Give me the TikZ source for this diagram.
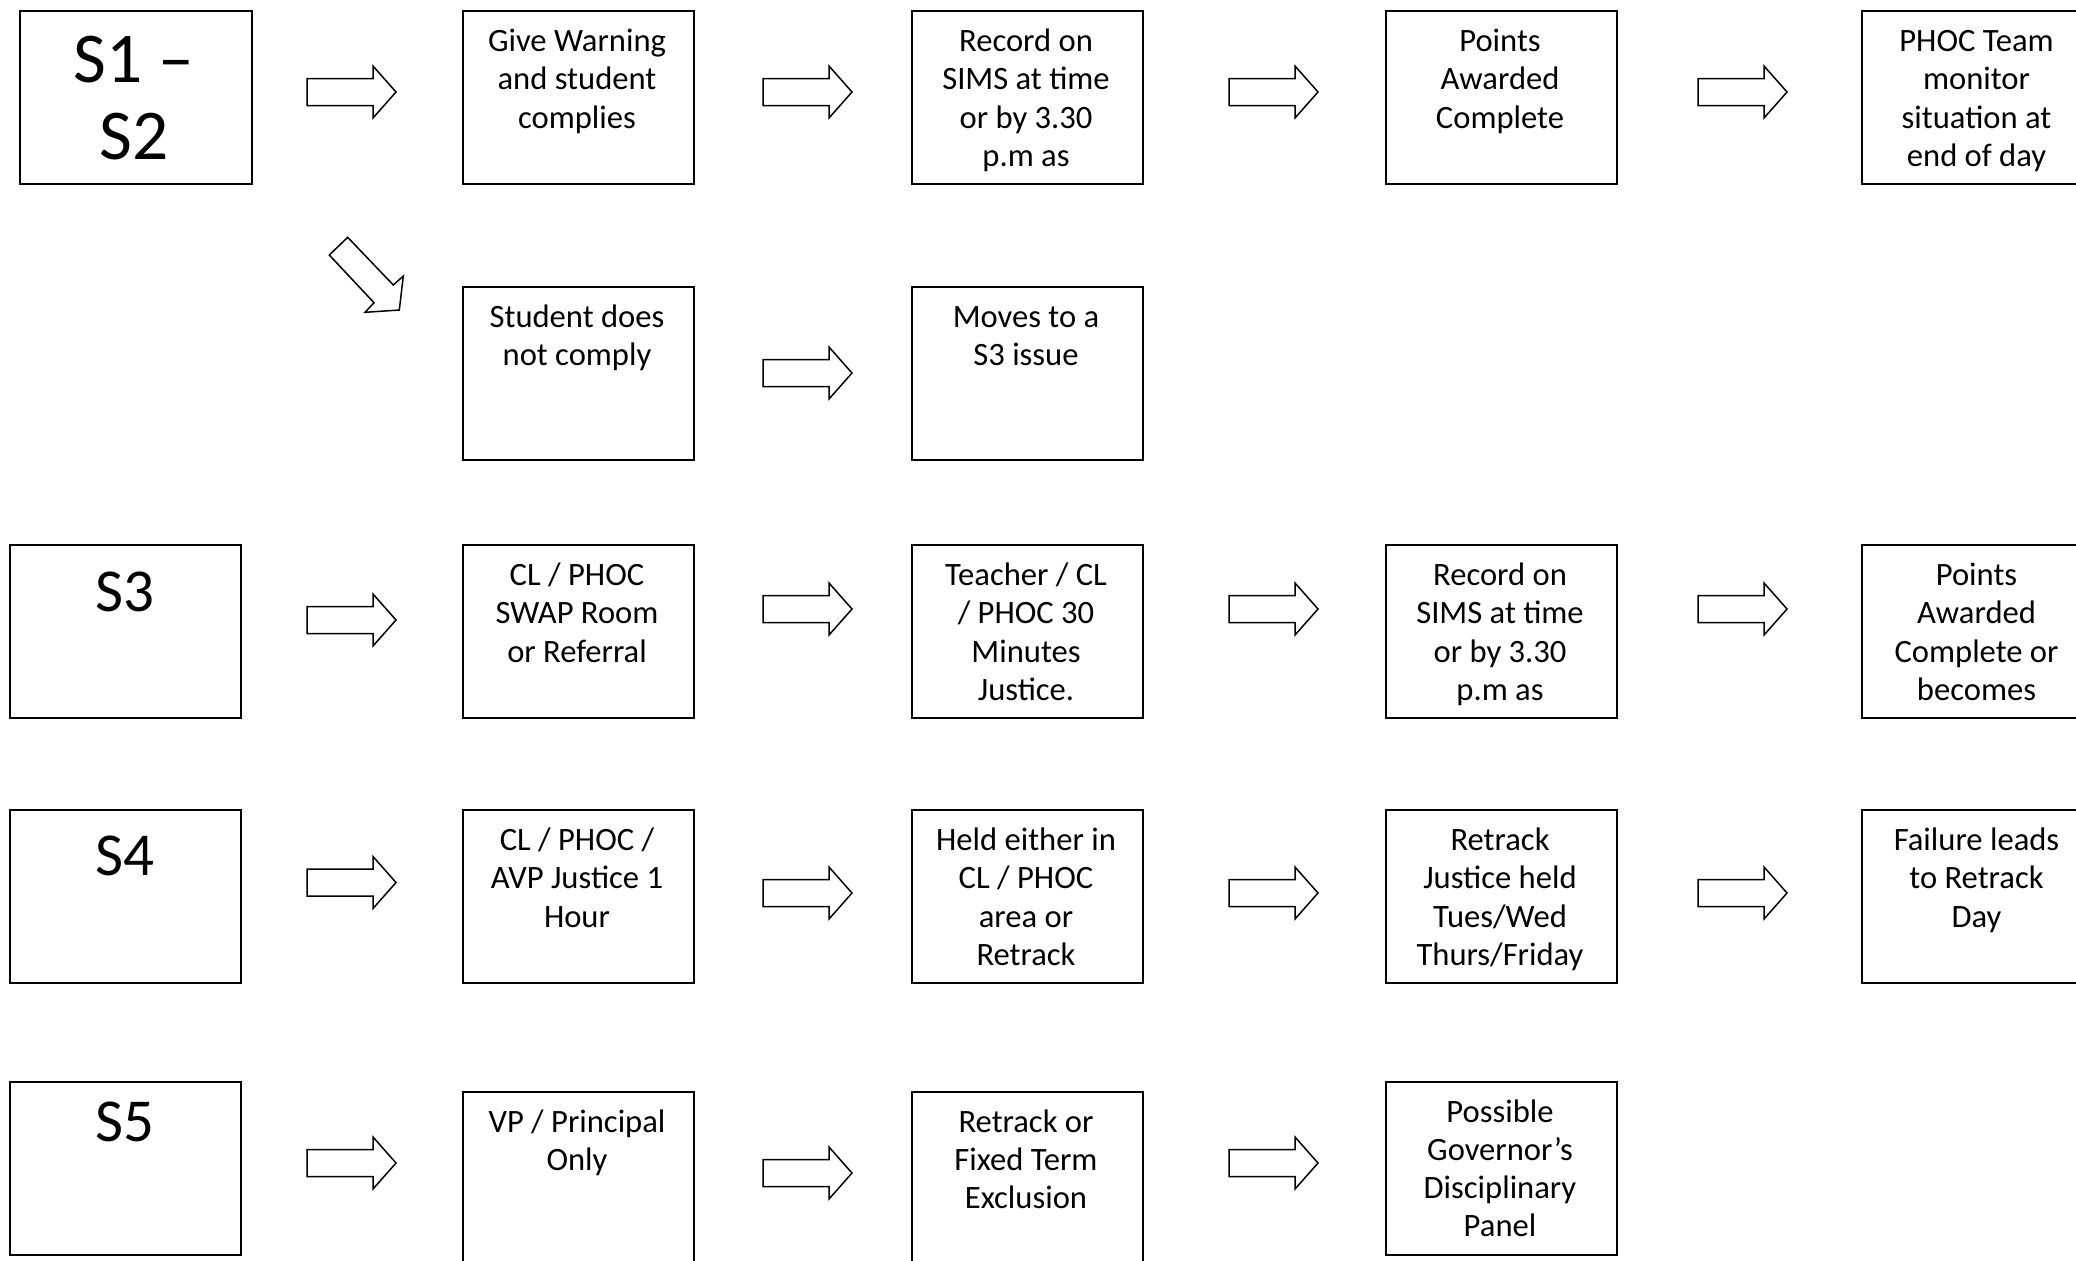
\documentclass[tikz,border=0pt]{standalone}
\usepackage{fontspec}
\setmainfont{Carlito}
\newcommand{\mybt}[1]{\parbox[t]{140pt}{\centering #1}}
\tikzset{
  sbox/.style={draw, line width=1.1pt, anchor=north west, inner sep=0pt, minimum width=115.5pt, minimum height=86.25pt},
  txt/.style={anchor=base, inner sep=0pt, font=\fontsize{16.3pt}{19.15pt}\selectfont},
  bigtxt/.style={anchor=base, inner sep=0pt, font=\fontsize{35.7pt}{38.3pt}\selectfont},
  midtxt/.style={anchor=base, inner sep=0pt, font=\fontsize{30.5pt}{36pt}\selectfont},
  arrowline/.style={draw, line width=0.75pt, line join=miter},
  rarrow/.pic={\path[arrowline] (0,-13.5) -- (66,-13.5) -- (66,-26) -- (89,0) -- (66,26) -- (66,13.5) -- (0,13.5) -- cycle;}
}
\begin{document}
\begin{tikzpicture}[x=0.5pt,y=-0.5pt]
\path[use as bounding box] (0,0) rectangle (2076,1260);
\clip (0,0) rectangle (2076,1260);
\fill[white] (0,0) rectangle (2076,1260);

% ---- Row 1
\node[sbox, minimum width=116pt] (s12) at (18.5,10) {};
\node[bigtxt] (s12a) at (134,82.7) {S1 –};
\node[bigtxt] (s12b) at (134,159.3) {S2};
\node[sbox] (b11) at (461.5,10) {};
\node[txt] (t11) at (577,51.5) {\mybt{Give Warning\\and student\\complies}};
\node[sbox] (b12) at (911,10) {};
\node[txt] (t12) at (1026,51.5) {\mybt{Record on\\SIMS at time\\or by 3.30\\p.m as}};
\node[sbox] (b13) at (1385,10) {};
\node[txt] (t13) at (1500,51.5) {\mybt{Points\\Awarded\\Complete}};
\node[sbox] (b14) at (1861,10) {};
\node[txt] (t14) at (1976.5,51.5) {\mybt{PHOC Team\\monitor\\situation at\\end of day}};
\pic at (307,92) {rarrow};
\pic at (763,92) {rarrow};
\pic at (1229,92) {rarrow};
\pic at (1698,92) {rarrow};

% ---- Row 2
\path[arrowline] (329.3,255) -- (347.7,237.3) -- (393.3,285) -- (403.3,276) -- (399.3,310) -- (365,312.3) -- (374,302.7) -- cycle;
\node[sbox] (b21) at (461.5,286) {};
\node[txt] (t21) at (577,327.5) {\mybt{Student does\\not comply}};
\node[sbox] (b22) at (911,286) {};
\node[txt] (t22) at (1026,327.5) {\mybt{Moves to a\\S3 issue}};
\pic at (763,373) {rarrow};

% ---- Row 3
\node[sbox] (s3) at (9,544) {};
\node[midtxt] (s3t) at (124.5,611) {S3};
\node[sbox] (b31) at (461.5,544) {};
\node[txt] (t31) at (577,585.5) {\mybt{CL / PHOC\\SWAP Room\\or Referral}};
\node[sbox] (b32) at (911,544) {};
\node[txt] (t32) at (1026,585.5) {\mybt{Teacher / CL\\/ PHOC 30\\Minutes\\Justice.}};
\node[sbox] (b33) at (1385,544) {};
\node[txt] (t33) at (1500,585.5) {\mybt{Record on\\SIMS at time\\or by 3.30\\p.m as}};
\node[sbox] (b34) at (1861,544) {};
\node[txt] (t34) at (1976.5,585.5) {\mybt{Points\\Awarded\\Complete or\\becomes}};
\pic at (307,620) {rarrow};
\pic at (763,609) {rarrow};
\pic at (1229,609) {rarrow};
\pic at (1698,609) {rarrow};

% ---- Row 4
\node[sbox] (s4) at (9,809) {};
\node[midtxt] (s4t) at (124.5,875) {S4};
\node[sbox] (b41) at (461.5,809) {};
\node[txt] (t41) at (577,850.5) {\mybt{CL / PHOC /\\AVP Justice 1\\Hour}};
\node[sbox] (b42) at (911,809) {};
\node[txt] (t42) at (1026,850.5) {\mybt{Held either in\\CL / PHOC\\area or\\Retrack}};
\node[sbox] (b43) at (1385,809) {};
\node[txt] (t43) at (1500,850.5) {\mybt{Retrack\\Justice held\\Tues/Wed\\Thurs/Friday}};
\node[sbox] (b44) at (1861,809) {};
\node[txt] (t44) at (1976.5,850.5) {\mybt{Failure leads\\to Retrack\\Day}};
\pic at (307,882.5) {rarrow};
\pic at (763,893) {rarrow};
\pic at (1229,893) {rarrow};
\pic at (1698,893) {rarrow};

% ---- Row 5
\node[sbox] (s5) at (9,1081) {};
\node[midtxt] (s5t) at (124.5,1141) {S5};
\node[sbox] (b51) at (461.5,1091) {};
\node[txt] (t51) at (577,1132) {\mybt{VP / Principal\\Only}};
\node[sbox] (b52) at (911,1091) {};
\node[txt] (t52) at (1026,1132) {\mybt{Retrack or\\Fixed Term\\Exclusion}};
\node[sbox] (b53) at (1385,1081) {};
\node[txt] (t53) at (1500,1122) {\mybt{Possible\\Governor’s\\Disciplinary\\Panel}};
\pic at (307,1163) {rarrow};
\pic at (763,1173) {rarrow};
\pic at (1229,1163) {rarrow};
\end{tikzpicture}
\end{document}
